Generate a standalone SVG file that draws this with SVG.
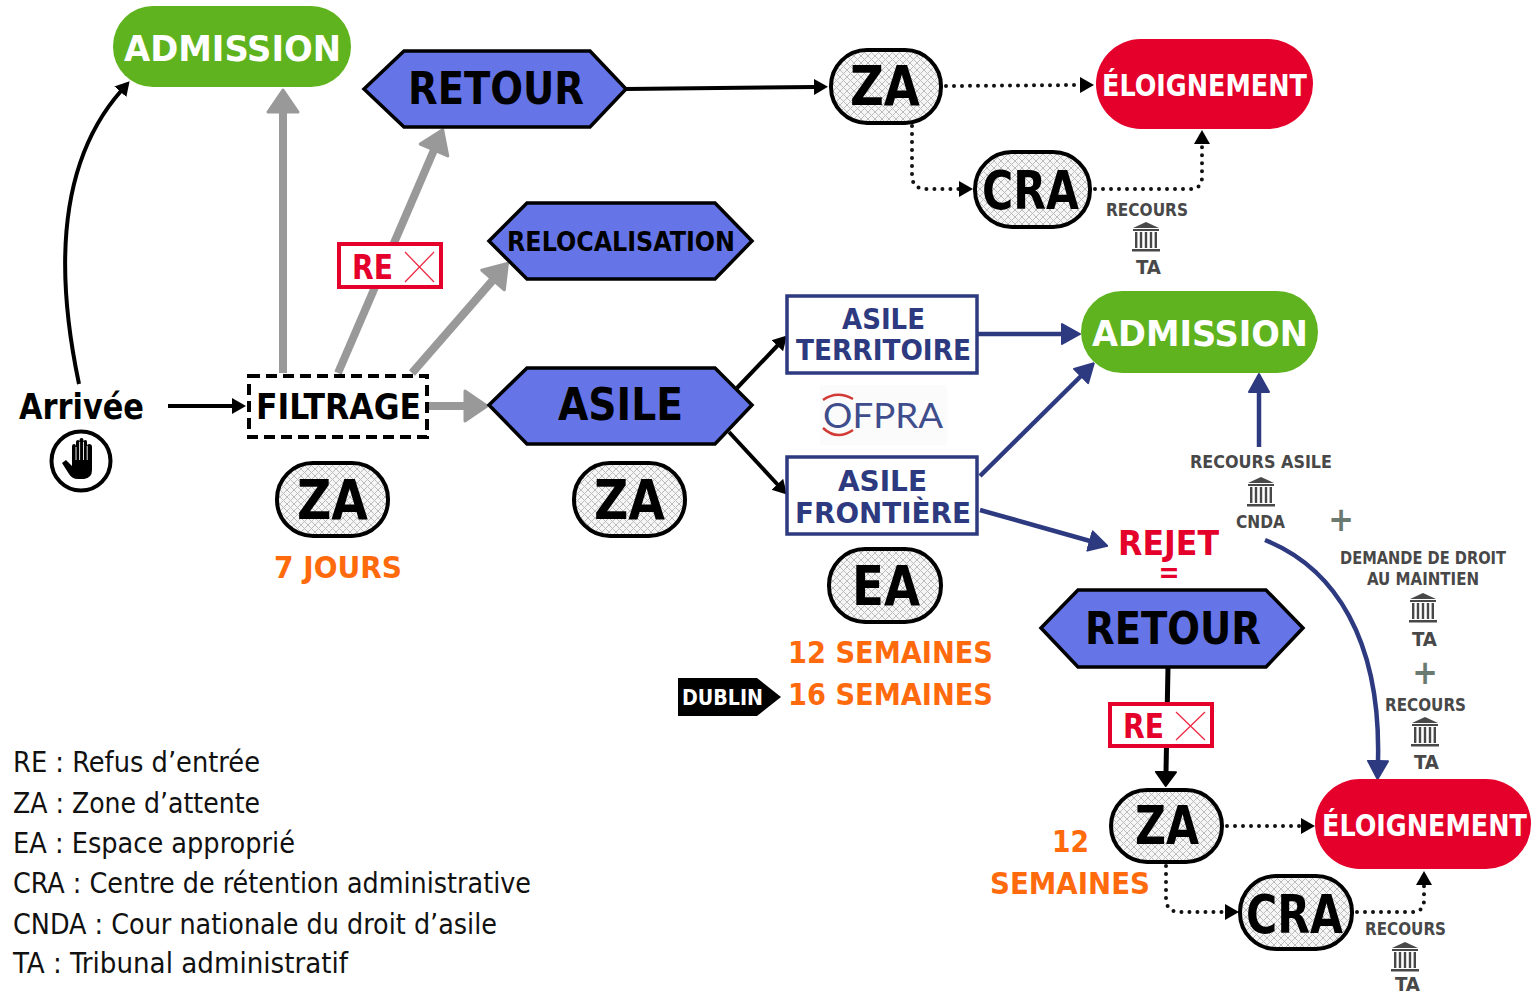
<svg xmlns="http://www.w3.org/2000/svg" width="1531" height="993" viewBox="0 0 1531 993">
<style>
text{font-family:"DejaVu Sans","Liberation Sans",sans-serif;font-weight:700;font-stretch:condensed}
.w{fill:#fff}.k{fill:#000}.o{fill:#ff6a0d}.n{fill:#2d3a80}.r{fill:#e4002b}.g{fill:#484848}.p{fill:#6a7a70}
.leg{font-weight:400;font-size:29px;fill:#111}
.hex{fill:#6575e8;stroke:#000;stroke-width:3.5;stroke-linejoin:miter}
.pill{fill:url(#hatch);stroke:#000;stroke-width:4}
.box{fill:#fff;stroke:#2d3a80;stroke-width:3.5}
.rebox{fill:#fff;stroke:#e4002b;stroke-width:4}
.x{stroke:#ee2a45;stroke-width:1.3;fill:none}
.c{fill:none}
.gy{stroke:#999;stroke-width:8;marker-end:url(#ag)}
.bk{stroke:#000;stroke-width:4;marker-end:url(#ak)}
.dt{stroke:#111;stroke-width:4;stroke-linecap:round;stroke-dasharray:0 8;marker-end:url(#ak)}
.nv{stroke:#2d3a80;stroke-width:4.5;marker-end:url(#an)}
</style>
<defs>
<pattern id="hatch" width="7" height="7" patternUnits="userSpaceOnUse">
<rect width="7" height="7" fill="#f6f6f6"/>
<path d="M0,0L7,7M7,0L0,7" stroke="#bcbcbc" stroke-width="1" fill="none"/>
</pattern>
<marker id="ag" viewBox="0 0 26 36" refX="2" refY="18" markerWidth="26" markerHeight="36" markerUnits="userSpaceOnUse" orient="auto"><path d="M2,3L24,18L2,33Z" fill="#999" stroke="#999" stroke-width="3" stroke-linejoin="round"/></marker>
<marker id="ak" viewBox="0 0 14 18" refX="1" refY="9" markerWidth="14" markerHeight="18" markerUnits="userSpaceOnUse" orient="auto"><path d="M0,1L14,9L0,17Z" fill="#000"/></marker>
<marker id="an" viewBox="0 0 20 24" refX="1" refY="12" markerWidth="20" markerHeight="24" markerUnits="userSpaceOnUse" orient="auto"><path d="M1,2L19,12L1,22Z" fill="#2d3a80" stroke="#2d3a80" stroke-width="2" stroke-linejoin="round"/></marker>
<marker id="ab" viewBox="0 0 16 24" refX="1" refY="12" markerWidth="16" markerHeight="24" markerUnits="userSpaceOnUse" orient="auto"><path d="M1,2L15,12L1,22Z" fill="#000" stroke="#000" stroke-width="2" stroke-linejoin="round"/></marker>
<g id="bank" fill="#484848">
<path d="M-13,-9L0,-15L13,-9Z"/>
<rect x="-13" y="-8" width="26" height="2"/>
<rect x="-11" y="-5" width="2.4" height="16"/><rect x="-6.2" y="-5" width="2.4" height="16"/><rect x="-1.2" y="-5" width="2.4" height="16"/><rect x="3.8" y="-5" width="2.4" height="16"/><rect x="8.6" y="-5" width="2.4" height="16"/>
<rect x="-14" y="12" width="28" height="2.5"/>
</g>
</defs>

<g id="connectors" class="c">
<path class="bk" d="M79,384C56,275 56,165 121,91"/>
<path class="bk" d="M168,406H233"/>
<path class="gy" d="M283,373V112"/>
<path class="gy" d="M338,373L434,150"/>
<path class="gy" d="M412,373L493,280"/>
<path class="gy" d="M428,406H465"/>
<path class="bk" d="M626,89L815,87"/>
<path class="dt" d="M946,86L1081,85"/>
<path class="dt" d="M912,126V175Q912,189 926,189H960"/>
<path class="dt" d="M1095,189H1190Q1202,189 1202,177V143"/>
<path class="bk" d="M737,388L778,345"/>
<path class="bk" d="M729,432L778,485"/>
<path class="nv" d="M977,334H1062"/>
<path class="nv" d="M980,476L1081,376"/>
<path class="nv" d="M980,510L1090,541"/>
<path class="nv" d="M1259,447V392"/>
<path class="nv" d="M1265,540C1335,568 1381,640 1378,761"/>
<path class="bk" style="stroke-width:5;marker-end:url(#ab)" d="M1168,667L1166,772"/>
<path class="dt" d="M1227,826H1302"/>
<path class="dt" d="M1166,866V898Q1166,912 1180,912H1226"/>
<path class="dt" d="M1357,912H1412Q1424,912 1424,900V884"/>
</g>

<g id="admission-top"><rect x="113" y="6" width="238" height="81" rx="40" fill="#5fb31f"/><text class="w" x="124" y="61" font-size="35" textLength="217" lengthAdjust="spacingAndGlyphs">ADMISSION</text></g>
<g id="retour-top"><polygon class="hex" points="364,89 404,51 590,51 626,89 590,127 404,127"/><text class="k" x="408" y="104" font-size="44" textLength="176" lengthAdjust="spacingAndGlyphs">RETOUR</text></g>
<g id="za-top"><rect class="pill" x="831" y="50" width="110" height="73" rx="36"/><text class="k" x="850" y="105" font-size="55" textLength="70" lengthAdjust="spacingAndGlyphs">ZA</text></g>
<g id="eloignement-top"><rect x="1096" y="39" width="217" height="90" rx="45" fill="#e4002b"/><text class="w" x="1102" y="96" font-size="30" textLength="205" lengthAdjust="spacingAndGlyphs">ÉLOIGNEMENT</text></g>
<g id="cra-top"><rect class="pill" x="975" y="152" width="115" height="75" rx="37"/><text class="k" x="982" y="209" font-size="54" textLength="97" lengthAdjust="spacingAndGlyphs">CRA</text></g>
<g id="recours-top"><text class="g" x="1106" y="216" font-size="18" textLength="82" lengthAdjust="spacingAndGlyphs">RECOURS</text><use href="#bank" x="1146" y="237"/><text class="g" x="1136" y="274" font-size="20" textLength="25" lengthAdjust="spacingAndGlyphs">TA</text></g>
<g id="relocalisation"><polygon class="hex" points="489,241 527,203 715,203 752,241 715,279 527,279"/><text class="k" x="507" y="251" font-size="27" textLength="228" lengthAdjust="spacingAndGlyphs">RELOCALISATION</text></g>
<g id="re-1"><rect class="rebox" x="339" y="244" width="102" height="43"/><text class="r" x="352" y="279" font-size="33" textLength="41" lengthAdjust="spacingAndGlyphs">RE</text><path class="x" d="M405,252L434,282M434,252L405,282"/></g>
<g id="arrivee"><text class="k" x="19" y="419" font-size="35" textLength="125" lengthAdjust="spacingAndGlyphs">Arrivée</text>
<circle cx="81" cy="461" r="29.5" fill="#fff" stroke="#000" stroke-width="4"/>
<path d="M62,463L66,460L72,466V447Q72,444 74,444Q76,444 76,447V442Q76,440 78,440Q79.500,440 79.500,442V440Q79.500,438 81.500,438Q83.500,438 83.500,440V442Q83.500,440 85.500,440Q87,440 87,442V446Q87,444 89,444Q92,444 92,447V470Q92,478 84,479H78Q72,479 69,474Z" fill="#000"/>
<path d="M76,447V460M79.600,442V460M83.500,442V460M87.200,446V460" stroke="#fff" stroke-width="0.9" fill="none"/>
</g>
<g id="filtrage"><rect x="249" y="376" width="178" height="61" fill="#fff" stroke="#000" stroke-width="4" stroke-dasharray="11 6"/><text class="k" x="256" y="419" font-size="35" textLength="165" lengthAdjust="spacingAndGlyphs">FILTRAGE</text></g>
<g id="asile"><polygon class="hex" points="489,405 527,368 715,368 752,405 715,444 527,444"/><text class="k" x="558" y="420" font-size="44" textLength="125" lengthAdjust="spacingAndGlyphs">ASILE</text></g>
<g id="za-filtrage"><rect class="pill" x="277" y="463" width="111" height="73" rx="36"/><text class="k" x="297" y="519" font-size="55" textLength="71" lengthAdjust="spacingAndGlyphs">ZA</text></g>
<g id="jours"><text class="o" x="274" y="578" font-size="30" textLength="128" lengthAdjust="spacingAndGlyphs">7 JOURS</text></g>
<g id="za-asile"><rect class="pill" x="574" y="463" width="111" height="73" rx="36"/><text class="k" x="594" y="519" font-size="55" textLength="71" lengthAdjust="spacingAndGlyphs">ZA</text></g>
<g id="asile-territoire"><rect class="box" x="787" y="296" width="190" height="77"/><text class="n" x="842" y="329" font-size="29" textLength="83" lengthAdjust="spacingAndGlyphs">ASILE</text><text class="n" x="796" y="360" font-size="29" textLength="175" lengthAdjust="spacingAndGlyphs">TERRITOIRE</text></g>
<g id="ofpra"><rect x="820" y="385" width="127" height="60" fill="#fbfbfb"/><text x="823" y="428" font-size="35" textLength="120" lengthAdjust="spacingAndGlyphs" style="font-family:Lato,sans-serif;font-weight:400;font-stretch:normal;fill:#3f4d8c">OFPRA</text><path d="M823,400Q837,390 853,399M823,428Q837,441 853,430" fill="none" stroke="#d23a35" stroke-width="2.500"/></g>
<g id="asile-frontiere"><rect class="box" x="787" y="457" width="190" height="77"/><text class="n" x="838" y="491" font-size="29" textLength="89" lengthAdjust="spacingAndGlyphs">ASILE</text><text class="n" x="795" y="523" font-size="29" textLength="176" lengthAdjust="spacingAndGlyphs">FRONTIÈRE</text></g>
<g id="ea"><rect class="pill" x="829" y="549" width="112" height="73" rx="36"/><text class="k" x="852" y="605" font-size="55" textLength="68" lengthAdjust="spacingAndGlyphs">EA</text></g>
<g id="semaines"><text class="o" x="788" y="663" font-size="31" textLength="205" lengthAdjust="spacingAndGlyphs">12 SEMAINES</text><text class="o" x="788" y="705" font-size="31" textLength="205" lengthAdjust="spacingAndGlyphs">16 SEMAINES</text></g>
<g id="dublin"><polygon points="678,678 757,678 781,697 757,716 678,716" fill="#000"/><text class="w" x="682" y="705" font-size="21" textLength="81" lengthAdjust="spacingAndGlyphs">DUBLIN</text></g>
<g id="admission-mid"><rect x="1081" y="291" width="237" height="82" rx="41" fill="#5fb31f"/><text class="w" x="1092" y="346" font-size="35" textLength="216" lengthAdjust="spacingAndGlyphs">ADMISSION</text></g>
<g id="recours-asile"><text class="g" x="1190" y="468" font-size="18" textLength="142" lengthAdjust="spacingAndGlyphs">RECOURS ASILE</text><use href="#bank" x="1261" y="492"/><text class="g" x="1236" y="528" font-size="18" textLength="49" lengthAdjust="spacingAndGlyphs">CNDA</text></g>
<g id="plus-1"><text class="p" x="1341" y="531" font-size="34" text-anchor="middle">+</text></g>
<g id="demande"><text class="g" x="1340" y="564" font-size="18" textLength="166" lengthAdjust="spacingAndGlyphs">DEMANDE DE DROIT</text><text class="g" x="1367" y="585" font-size="18" textLength="112" lengthAdjust="spacingAndGlyphs">AU MAINTIEN</text><use href="#bank" x="1423" y="608"/><text class="g" x="1412" y="646" font-size="20" textLength="25" lengthAdjust="spacingAndGlyphs">TA</text></g>
<g id="plus-2"><text class="p" x="1425" y="684" font-size="34" text-anchor="middle">+</text></g>
<g id="recours-mid"><text class="g" x="1385" y="711" font-size="18" textLength="81" lengthAdjust="spacingAndGlyphs">RECOURS</text><use href="#bank" x="1425" y="732"/><text class="g" x="1414" y="769" font-size="20" textLength="25" lengthAdjust="spacingAndGlyphs">TA</text></g>
<g id="rejet"><text class="r" x="1118" y="555" font-size="33" textLength="101" lengthAdjust="spacingAndGlyphs">REJET</text><text class="r" x="1169" y="582" font-size="28" text-anchor="middle">=</text></g>
<g id="retour-bottom"><polygon class="hex" points="1041,628 1078,590 1266,590 1303,628 1266,667 1078,667"/><text class="k" x="1085" y="644" font-size="44" textLength="176" lengthAdjust="spacingAndGlyphs">RETOUR</text></g>
<g id="re-2"><rect class="rebox" x="1110" y="704" width="102" height="42"/><text class="r" x="1123" y="738" font-size="33" textLength="41" lengthAdjust="spacingAndGlyphs">RE</text><path class="x" d="M1176,712L1205,740M1205,712L1176,740"/></g>
<g id="za-bottom"><rect class="pill" x="1111" y="790" width="111" height="72" rx="36"/><text class="k" x="1135" y="844" font-size="54" textLength="64" lengthAdjust="spacingAndGlyphs">ZA</text></g>
<g id="eloignement-bottom"><rect x="1315" y="779" width="216" height="90" rx="45" fill="#e4002b"/><text class="w" x="1322" y="836" font-size="30" textLength="205" lengthAdjust="spacingAndGlyphs">ÉLOIGNEMENT</text></g>
<g id="cra-bottom"><rect class="pill" x="1240" y="876" width="112" height="73" rx="36"/><text class="k" x="1246" y="933" font-size="54" textLength="97" lengthAdjust="spacingAndGlyphs">CRA</text></g>
<g id="semaines-bottom"><text class="o" x="1052" y="852" font-size="31" textLength="37" lengthAdjust="spacingAndGlyphs">12</text><text class="o" x="990" y="894" font-size="31" textLength="160" lengthAdjust="spacingAndGlyphs">SEMAINES</text></g>
<g id="recours-bottom"><text class="g" x="1365" y="935" font-size="18" textLength="81" lengthAdjust="spacingAndGlyphs">RECOURS</text><use href="#bank" x="1405" y="957"/><text class="g" x="1395" y="991" font-size="19" textLength="25" lengthAdjust="spacingAndGlyphs">TA</text></g>
<g id="legend">
<text class="leg" x="13" y="772" textLength="247" lengthAdjust="spacingAndGlyphs">RE : Refus d’entrée</text>
<text class="leg" x="13" y="813" textLength="247" lengthAdjust="spacingAndGlyphs">ZA : Zone d’attente</text>
<text class="leg" x="13" y="853" textLength="282" lengthAdjust="spacingAndGlyphs">EA : Espace approprié</text>
<text class="leg" x="13" y="893" textLength="518" lengthAdjust="spacingAndGlyphs">CRA : Centre de rétention administrative</text>
<text class="leg" x="13" y="934" textLength="484" lengthAdjust="spacingAndGlyphs">CNDA : Cour nationale du droit d’asile</text>
<text class="leg" x="13" y="973" textLength="335" lengthAdjust="spacingAndGlyphs">TA : Tribunal administratif</text>
</g>
</svg>
